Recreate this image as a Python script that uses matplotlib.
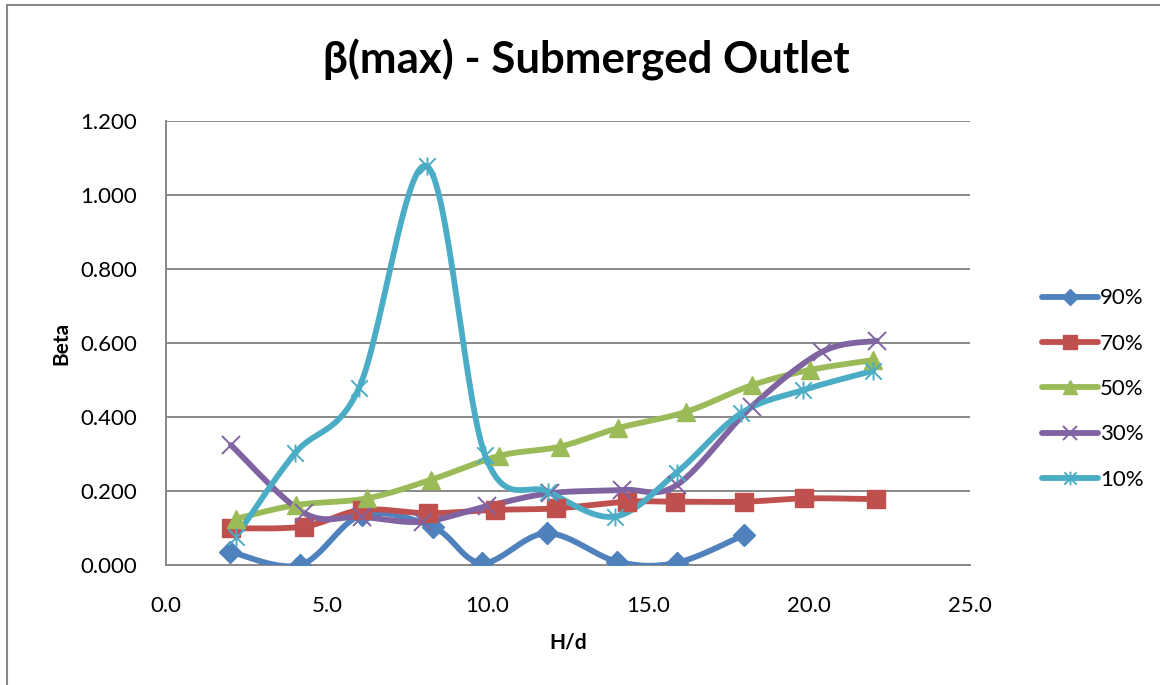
import numpy as np
import matplotlib
matplotlib.use("Agg")
import matplotlib.pyplot as plt
from matplotlib.patches import Rectangle
from matplotlib.path import Path

# data (H/d, Beta)
x90 = [1.99, 4.17, 6.09, 8.30, 9.82, 11.84, 14.03, 15.88, 17.97]
y90 = [0.036, 0.000, 0.135, 0.103, 0.005, 0.086, 0.009, 0.006, 0.081]

x70 = [2.02, 4.30, 6.09, 8.16, 10.23, 12.12, 14.33, 15.83, 17.97, 19.85, 22.08]
y70 = [0.099, 0.104, 0.149, 0.140, 0.149, 0.153, 0.171, 0.171, 0.171, 0.180, 0.178]

x50 = [2.18, 4.04, 6.24, 8.23, 10.36, 12.25, 14.06, 16.17, 18.22, 20.02, 21.99]
y50 = [0.125, 0.162, 0.180, 0.230, 0.295, 0.320, 0.370, 0.414, 0.486, 0.527, 0.554]

x30 = [2.02, 4.30, 6.09, 8.00, 9.97, 11.94, 14.19, 15.88, 18.21, 20.40, 22.10]
y30 = [0.324, 0.140, 0.130, 0.117, 0.159, 0.194, 0.203, 0.216, 0.428, 0.576, 0.606]

x10 = [2.18, 4.01, 6.00, 8.11, 9.92, 11.89, 13.96, 15.88, 17.88, 19.82, 21.99]
y10 = [0.077, 0.302, 0.478, 1.078, 0.297, 0.198, 0.131, 0.250, 0.410, 0.473, 0.525]

labels = ["90%", "70%", "50%", "30%", "10%"]
colors = ["#4F81BD", "#C0504D", "#9BBB59", "#8064A2", "#4BACC6"]
markers = ["D", "s", "^", "x", "*"]


def smooth(xs, ys, n=30):
    # Excel-like smoothed line (Catmull-Rom as cubic Bezier)
    p = np.column_stack([xs, ys])
    out = [p[0]]
    t = np.linspace(0, 1, n)[1:, None]
    for i in range(len(p) - 1):
        p0 = p[i - 1] if i > 0 else p[i]
        p3 = p[i + 2] if i + 2 < len(p) else p[i + 1]
        c1 = p[i] + (p[i + 1] - p0) / 6
        c2 = p[i + 1] - (p3 - p[i]) / 6
        seg = ((1 - t) ** 3) * p[i] + 3 * ((1 - t) ** 2) * t * c1 \
            + 3 * (1 - t) * t ** 2 * c2 + t ** 3 * p[i + 1]
        out.extend(seg)
    out = np.array(out)
    return out[:, 0], out[:, 1]


# excel "star" marker: an x with a vertical bar through it
star = Path([(-1, -1), (1, 1), (-1, 1), (1, -1), (0, -1.1), (0, 1.1)],
            [Path.MOVETO, Path.LINETO, Path.MOVETO, Path.LINETO, Path.MOVETO, Path.LINETO])

plt.rcParams['font.family'] = ['Lato', 'DejaVu Sans']

W, H = 1160, 685
fig = plt.figure(figsize=(W / 100, H / 100), dpi=100)
fig.patches.append(Rectangle((7 / W, -0.1), 1.2, (H - 5) / H + 0.1,
                             transform=fig.transFigure, fill=False,
                             edgecolor="#888888", linewidth=1.5))

ax = fig.add_axes([166 / W, 1 - 565 / H, (970 - 166) / W, (565 - 121) / H])

LW = 4.2
sizes = {"D": 11, "s": 12.5, "^": 13, "x": 13, "*": 13}
series = [(x90, y90), (x70, y70), (x50, y50), (x30, y30), (x10, y10)]
for (xs, ys), lab, col, mk in zip(series, labels, colors, markers):
    sx, sy = smooth(xs, ys)
    ax.plot(sx, sy, color=col, lw=LW, solid_capstyle="round", zorder=3)
    ms = sizes[mk]
    m = star if mk == "*" else mk
    mew = 1.4 if mk in ("x", "*") else 1
    ax.plot(xs, ys, ls="none", marker=m, ms=ms, mew=mew, color=col, mec=col, zorder=4)
    ax.plot([], [], color=col, lw=LW, marker=m, ms=ms * 0.75, mew=mew, label=lab,
            solid_capstyle="round")

ax.set_xlim(0, 25)
ax.set_ylim(0, 1.2)
ax.set_xticks(np.arange(0, 25.1, 5))
ax.set_xticklabels([f"{v:.1f}" for v in np.arange(0, 25.1, 5)])
ax.set_yticks(np.arange(0, 1.21, 0.2))
ax.set_yticklabels([f"{v:.3f}" for v in np.arange(0, 1.21, 0.2)])
ax.tick_params(length=0, labelsize=16, pad=22)
ax.tick_params(axis="y", pad=21)
ax.grid(axis="y", color="#888888", lw=1.4)
ax.set_axisbelow(True)
for s in ("top", "right"):
    ax.spines[s].set_visible(False)
for s in ("left", "bottom"):
    ax.spines[s].set_color("#888888")
    ax.spines[s].set_linewidth(1.4)

ax.set_xlabel("H/d", fontsize=15, fontweight="bold", labelpad=12)
ax.set_ylabel("Beta", fontsize=15, fontweight="bold", labelpad=6)

fig.text(586 / W, 1 - 60 / H, "β(max) - Submerged Outlet", ha="center", va="center",
         fontsize=31.5, fontweight="bold")

leg = ax.legend(loc="center left", bbox_to_anchor=(1022 / W, 1 - 389 / H),
                bbox_transform=fig.transFigure, frameon=False, fontsize=16,
                handlelength=2.5, handletextpad=0.12, labelspacing=1.14)

fig.savefig("out.png", dpi=100)
